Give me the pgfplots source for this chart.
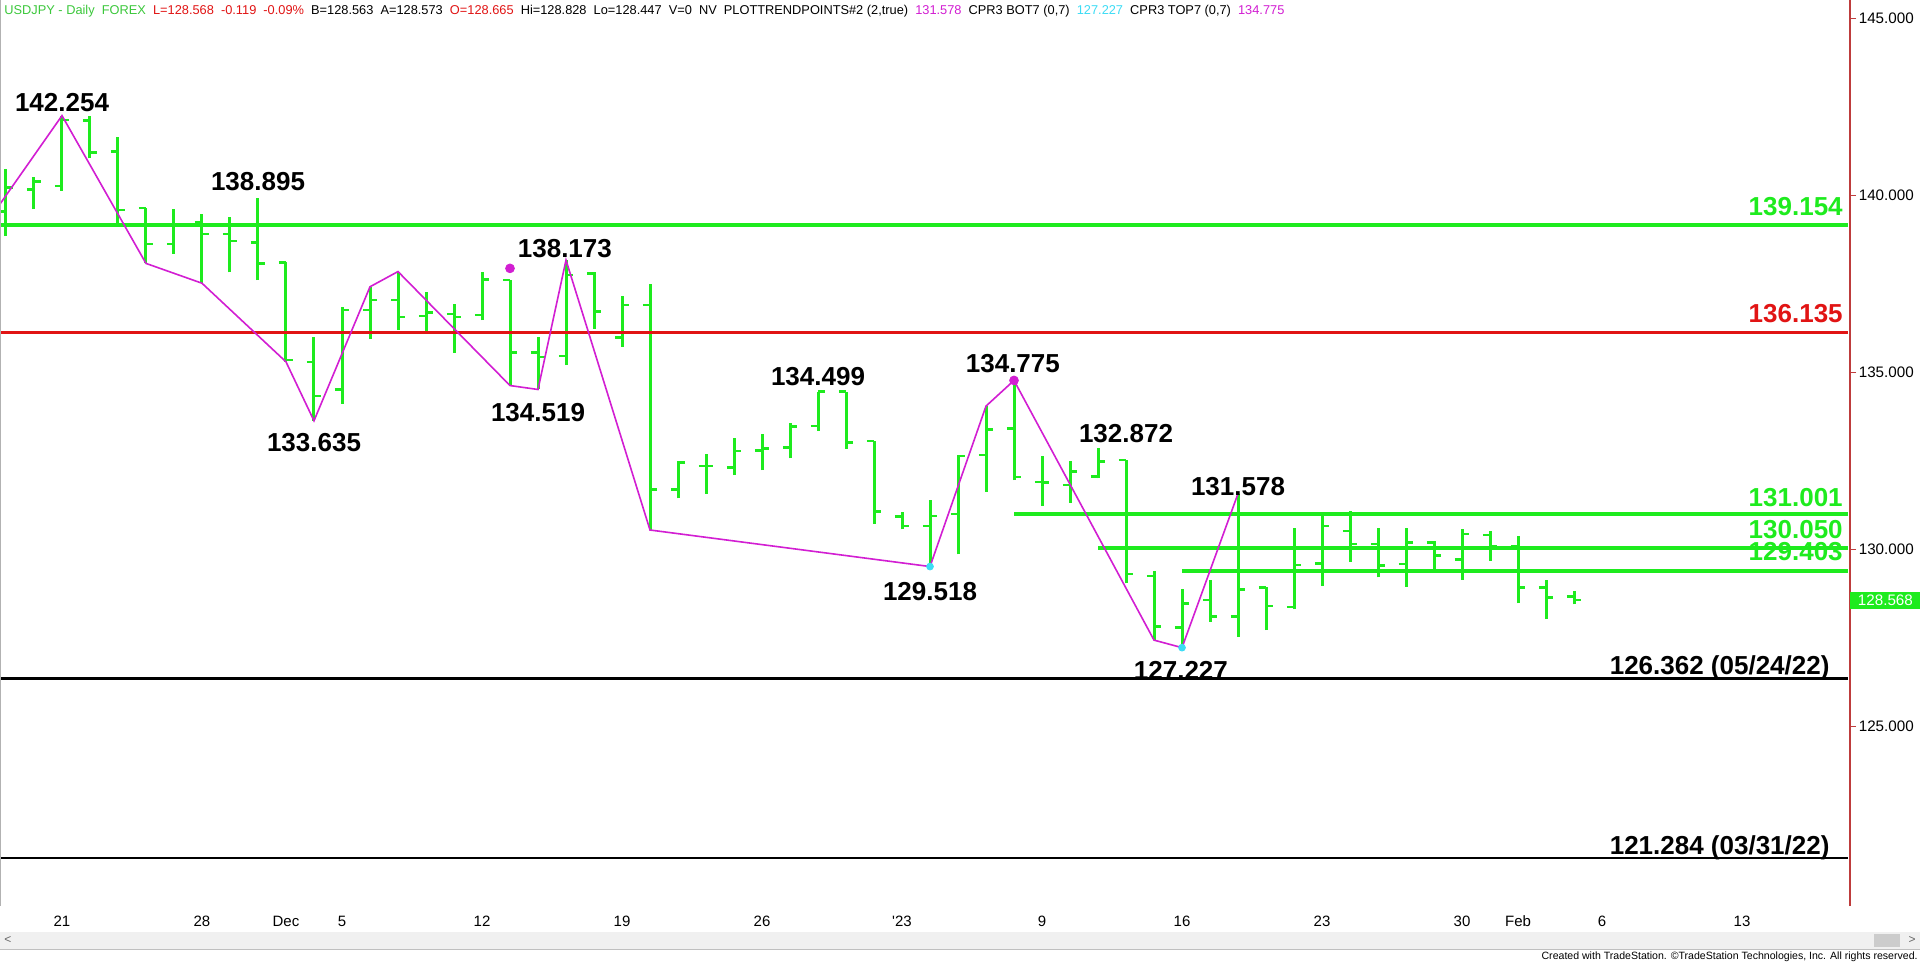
\documentclass[border=0pt]{standalone}
\usepackage{pgfplots}
\pgfplotsset{compat=1.18}
\usepackage{pgfplotstable}
\usepackage{fontspec}
\setmainfont{Liberation Sans}
\usepackage{graphicx}

\definecolor{tsgreen}{RGB}{30,235,30}
\definecolor{hdgreen}{RGB}{60,200,60}
\definecolor{tsred}{RGB}{225,20,20}
\definecolor{tsmag}{RGB}{210,30,210}
\definecolor{tscyan}{RGB}{60,220,245}
\definecolor{tsborder}{RGB}{190,60,60}

\pgfdeclareplotmark{ohlcopen}{\pgfpathmoveto{\pgfqpoint{-3.6pt}{0pt}}\pgfpathlineto{\pgfqpoint{0pt}{0pt}}\pgfusepathqstroke}
\pgfdeclareplotmark{ohlcclose}{\pgfpathmoveto{\pgfqpoint{0pt}{0pt}}\pgfpathlineto{\pgfqpoint{3.6pt}{0pt}}\pgfusepathqstroke}

\newcommand{\lab}{\fontsize{13}{15}\selectfont\bfseries}

% daily bars: trading-day index (0 = Nov 21, 2022), high, low, open, close
\pgfplotstableread{
x H L O C
-2 140.76 138.85 139.54 140.23
-1 140.51 139.61 140.17 140.39
0 142.25 140.13 140.27 142.13
1 142.24 141.05 142.11 141.22
2 141.64 139.17 141.24 139.59
3 139.64 138.08 139.64 138.63
4 139.61 138.35 138.63 139.14
5 139.47 137.52 139.23 138.91
6 139.38 137.83 138.91 138.71
7 139.94 137.61 138.67 138.08
8 138.11 135.30 138.11 135.35
9 135.99 133.64 135.30 134.33
10 136.86 134.11 134.52 136.76
11 137.42 135.94 136.76 137.05
12 137.85 136.20 137.05 136.57
13 137.26 136.16 136.59 136.69
14 136.93 135.56 136.65 136.57
15 137.85 136.48 136.62 137.63
16 137.61 134.63 137.61 135.57
17 135.99 134.52 135.56 135.44
18 138.17 135.21 135.46 137.75
19 137.85 136.24 137.80 136.73
20 137.17 135.73 135.98 136.90
21 137.50 130.55 136.90 131.70
22 132.51 131.44 131.70 132.46
23 132.71 131.58 132.36 132.36
24 133.14 132.10 132.31 132.78
25 133.25 132.24 132.79 132.86
26 133.58 132.57 132.88 133.47
27 134.46 133.35 133.49 134.46
28 134.46 132.84 134.46 133.02
29 133.06 130.72 133.06 131.08
30 131.07 130.57 130.94 130.66
31 131.40 129.52 130.66 130.95
32 132.67 129.86 131.00 132.64
33 134.05 131.63 132.67 133.39
34 134.77 131.96 133.42 132.05
35 132.65 131.24 131.91 131.89
36 132.50 131.32 131.82 132.21
37 132.87 132.01 132.06 132.48
38 132.53 129.04 132.53 129.31
39 129.39 127.44 129.25 127.82
40 128.87 127.23 127.79 128.48
41 129.15 127.96 128.57 128.10
42 131.58 127.54 128.10 128.87
43 128.95 127.72 128.93 128.40
44 130.61 128.31 128.38 129.56
45 130.95 128.97 129.60 130.66
46 131.09 129.65 130.52 130.15
47 130.60 129.21 130.15 129.55
48 130.62 128.95 129.59 130.20
49 130.25 129.40 130.20 129.83
50 130.57 129.15 129.72 130.44
51 130.53 129.68 130.41 130.10
52 130.39 128.48 130.10 128.93
53 129.14 128.03 128.93 128.65
54 128.828 128.447 128.665 128.568
}\ohlc

% trend-point zigzag
\pgfplotstableread{
x y
-3 138.87
0 142.254
3 138.08
5 137.52
8 135.30
9 133.635
11 137.42
12 137.85
16 134.63
17 134.519
18 138.173
21 130.55
31 129.518
33 134.05
34 134.775
39 127.44
40 127.227
42 131.578
}\zigzag

\begin{document}
\begin{tikzpicture}
\path[use as bounding box] (0pt,0pt) rectangle (960pt,-481.5pt);
\fill[white] (0pt,0pt) rectangle (960pt,-481.5pt);

\begin{axis}[
  at={(0pt,0pt)}, anchor=north west,
  scale only axis, width=925pt, height=453pt,
  xmin=-2.214, xmax=63.857, ymin=119.93, ymax=145.52,
  clip mode=individual,
  axis line style={draw=none},
  xtick={0,5,8,10,15,20,25,30,35,40,45,50,52,55,60},
  xticklabels={21,28,Dec,5,12,19,26,\textquotesingle 23,9,16,23,30,Feb,6,13},
  xtick pos=bottom, xtick align=inside,
  x tick style={draw=none},
  xticklabel style={font=\fontsize{7.5}{9}\selectfont, anchor=center, yshift=-7.5pt},
  ytick={125,130,135,140,145},
  ytick pos=right, yticklabel pos=right, ytick align=outside,
  major tick length=3pt,
  y tick style={draw=tsborder, line width=0.5pt},
  yticklabel style={font=\fontsize{7.6}{9}\selectfont, inner sep=1.2pt},
  /pgf/number format/fixed, /pgf/number format/fixed zerofill,
  /pgf/number format/precision=3, /pgf/number format/assume math mode=true,
]
% bars: high-low range
\addplot[draw=none, mark=none, forget plot,
  error bars/.cd, y dir=plus, y explicit, error mark=none,
  error bar style={draw=tsgreen, line width=1.5pt}]
  table[x=x, y=L, y error plus expr=\thisrow{H}-\thisrow{L}] {\ohlc};
% open ticks
\addplot[only marks, mark=ohlcopen, mark options={draw=tsgreen, line width=1.3pt}]
  table[x=x, y=O] {\ohlc};
% close ticks
\addplot[only marks, mark=ohlcclose, mark options={draw=tsgreen, line width=1.3pt}]
  table[x=x, y=C] {\ohlc};

% horizontal levels
\addplot[tsgreen, line width=2pt] coordinates {(-2.214,139.154) (63.8,139.154)};
\addplot[tsred, line width=1.7pt] coordinates {(-2.214,136.135) (63.8,136.135)};
\addplot[tsgreen, line width=2pt] coordinates {(34,131.001) (63.8,131.001)};
\addplot[tsgreen, line width=2pt] coordinates {(37,130.050) (63.8,130.050)};
\addplot[tsgreen, line width=2pt] coordinates {(40,129.403) (63.8,129.403)};
\addplot[black, line width=1.35pt] coordinates {(-2.214,126.362) (63.8,126.362)};
\addplot[black, line width=1.35pt] coordinates {(-2.214,121.284) (63.8,121.284)};

% zigzag
\addplot[tsmag, line width=0.8pt, mark=none] table[x=x, y=y] {\zigzag};
% trend-point dots
\addplot[only marks, mark=*, mark size=2.2pt, mark options={draw=tsmag, fill=tsmag}]
  coordinates {(16,137.94) (34,134.775)};
\addplot[only marks, mark=*, mark size=1.7pt, mark options={draw=tscyan, fill=tscyan}]
  coordinates {(31,129.518) (40,127.227)};

% frame
\draw[gray!60, line width=1pt] (rel axis cs:0,0) -- (rel axis cs:0,1);
\draw[tsborder, line width=0.6pt] (rel axis cs:1,0) -- (rel axis cs:1,1);

% pivot labels
\node[font=\lab, inner sep=0] at (axis cs:0,142.61) {142.254};
\node[font=\lab, inner sep=0] at (axis cs:7,140.38) {138.895};
\node[font=\lab, inner sep=0] at (axis cs:9,133.03) {133.635};
\node[font=\lab, inner sep=0] at (axis cs:17.96,138.51) {138.173};
\node[font=\lab, inner sep=0] at (axis cs:17,133.88) {134.519};
\node[font=\lab, inner sep=0] at (axis cs:27,134.87) {134.499};
\node[font=\lab, inner sep=0] at (axis cs:31,128.80) {129.518};
\node[font=\lab, inner sep=0] at (axis cs:33.96,135.24) {134.775};
\node[font=\lab, inner sep=0] at (axis cs:38,133.26) {132.872};
\node[font=\lab, inner sep=0] at (axis cs:42,131.79) {131.578};
\node[font=\lab, inner sep=0] at (axis cs:39.96,126.59) {127.227};

% level labels
\node[font=\lab, text=tsgreen, anchor=base east, inner sep=0] at (axis cs:63.61,139.42) {139.154};
\node[font=\lab, text=tsred, anchor=base east, inner sep=0] at (axis cs:63.61,136.40) {136.135};
\node[font=\lab, text=tsgreen, anchor=base east, inner sep=0] at (axis cs:63.61,131.20) {131.001};
\node[font=\lab, text=tsgreen, anchor=base east, inner sep=0] at (axis cs:63.61,130.32) {130.050};
\node[font=\lab, text=tsgreen, anchor=base east, inner sep=0] at (axis cs:63.61,129.70) {129.403};
\node[font=\lab, anchor=base east, inner sep=0] at (axis cs:63.14,126.48) {126.362 (05/24/22)};
\node[font=\lab, anchor=base east, inner sep=0] at (axis cs:63.14,121.39) {121.284 (03/31/22)};

% last price tag
\node[fill=tsgreen, text=white, anchor=west, inner sep=0pt, minimum height=8.5pt, minimum width=35pt,
  font=\fontsize{7.6}{9}\selectfont] at (axis cs:63.857,128.568) {128.568};
\end{axis}

% header
\node[anchor=west, inner sep=0] at (2pt,-5.5pt) {\resizebox{640pt}{!}{\fontsize{6.5}{8}\selectfont
\textcolor{hdgreen}{USDJPY - Daily\ \ FOREX}\ \ \textcolor{tsred}{L=128.568\ \ -0.119\ \ -0.09\%}\ \ B=128.563\ \ A=128.573\ \ \textcolor{tsred}{O=128.665}\ \ Hi=128.828\ \ Lo=128.447\ \ V=0\ \ NV\ \ PLOTTRENDPOINTS\#2 (2,true)\ \ \textcolor{tsmag}{131.578}\ \ CPR3 BOT7 (0,7)\ \ \textcolor{tscyan}{127.227}\ \ CPR3 TOP7 (0,7)\ \ \textcolor{tsmag}{134.775}}};

% scrollbar
\fill[black!6] (0pt,-466pt) rectangle (960pt,-474.5pt);
\draw[black!25, line width=0.4pt] (0pt,-474.5pt) -- (960pt,-474.5pt);
\fill[black!20] (937pt,-467pt) rectangle (950pt,-473.5pt);
\node[font=\fontsize{6}{7}\selectfont, text=black!60] at (4pt,-470.2pt) {<};
\node[font=\fontsize{6}{7}\selectfont, text=black!60] at (956pt,-470.2pt) {>};

% credit
\node[anchor=east, inner sep=0] at (959pt,-478.3pt) {\resizebox{188pt}{!}{\fontsize{6}{7}\selectfont Created with TradeStation. \textcopyright TradeStation Technologies, Inc. All rights reserved.}};
\end{tikzpicture}
\end{document}
